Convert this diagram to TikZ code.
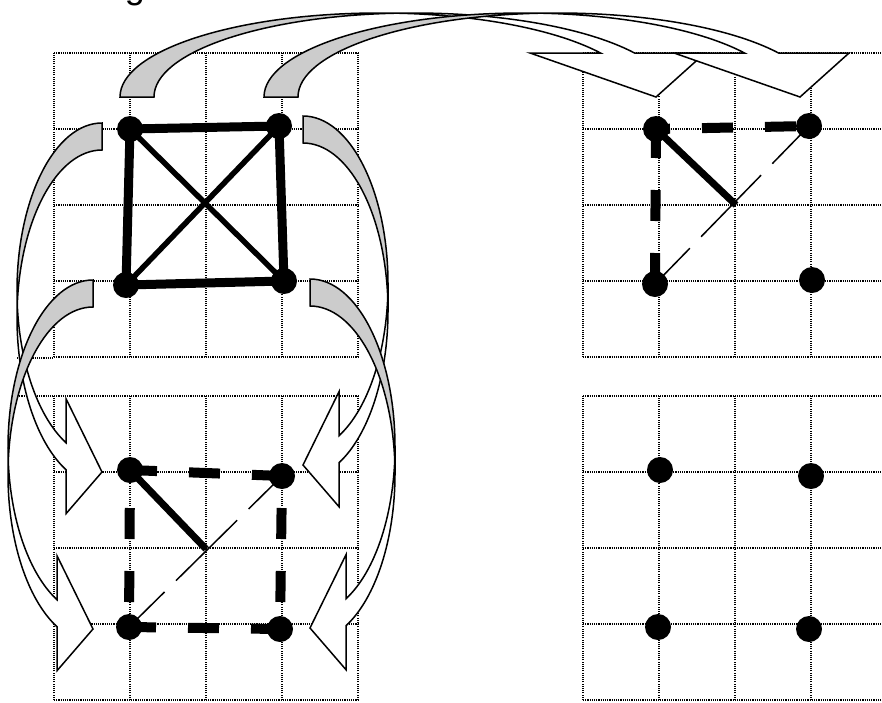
\documentclass[tikz,border=0pt]{standalone}
\usepackage{fontspec}
\setmainfont{Liberation Sans}
\usetikzlibrary{calc}
\definecolor{cShade}{RGB}{204,204,204}
\tikzset{
  gridline/.style={line width=1.1pt, dash pattern=on 1.1pt off 1.1pt, black},
  dotnode/.style={circle, fill=black, inner sep=0pt, minimum size=26pt},
  boldedge/.style={line width=9pt},
  crossedge/.style={line width=5.5pt},
  spokeedge/.style={line width=7pt},
  dashedge/.style={line width=10pt, dash pattern=on 31pt off 32pt},
  hairedge/.style={line width=1.5pt, dash pattern=on 86pt off 16pt, dash phase=36pt},
  arrowline/.style={line width=1.5pt, black},
}

% curved block arrow: #1 placement, #2 shaft, #3 head width, #4 head length, #5 span, #6 rise
\newcommand{\bandarrow}[6]{%
  \begin{scope}[#1]
    \pgfmathsetmacro\bwR{#5/2-(#2+#3)/4}
    \pgfmathsetmacro\bTa{asin(#4/#6)}
    \pgfmathsetmacro\bXf{\bwR+\bwR*cos(\bTa)}
    \pgfmathsetmacro\bXs{\bXf+#2}
    \pgfmathsetmacro\bXl{\bXf-(#3-#2)/2}
    \pgfmathsetmacro\bXr{\bXs+(#3-#2)/2}
    \pgfmathsetmacro\bTip{#5-#3/2}
    \pgfmathsetmacro\bPh{acos(#2/(2*\bwR))}
    \pgfmathsetmacro\bIx{\bwR+#2/2}
    \pgfmathsetmacro\bIy{#6*sin(\bPh)}
    \pgfmathsetmacro\bTop{\bwR+#2}
    % front
    \fill[white] (\bTip,0) -- (\bXl,#4) -- (\bXf,#4)
      arc[start angle=\bTa, end angle=90, x radius=\bwR, y radius=#6]
      -- (\bTop,#6)
      arc[start angle=90, end angle=\bTa, x radius=\bwR, y radius=#6]
      -- (\bXr,#4) -- cycle;
    % back
    \fill[cShade] (\bIx,\bIy)
      arc[start angle=180-\bPh, end angle=180, x radius=\bwR, y radius=#6]
      -- (0,0)
      arc[start angle=180, end angle=\bPh, x radius=\bwR, y radius=#6]
      -- cycle;
    % outline
    \draw[arrowline] (\bIx,\bIy)
      arc[start angle=180-\bPh, end angle=180, x radius=\bwR, y radius=#6]
      -- (0,0)
      arc[start angle=180, end angle=90, x radius=\bwR, y radius=#6]
      -- (\bTop,#6)
      arc[start angle=90, end angle=\bTa, x radius=\bwR, y radius=#6]
      -- (\bXr,#4) -- (\bTip,0) -- (\bXl,#4) -- (\bXf,#4)
      arc[start angle=\bTa, end angle=90, x radius=\bwR, y radius=#6];
  \end{scope}}

\begin{document}
\begin{tikzpicture}[x=1pt, y=1pt]

  \useasboundingbox (0,0) rectangle (882,-702);

  \node[font=\fontsize{36}{40}\selectfont, inner sep=0pt, anchor=base] (title)
      at (135,1.6) {g};

  % ── Grids ──
  \draw[gridline, shift={(54,-357)}] (0,0) grid[step=76] (304,304);
  \draw[gridline, shift={(583,-357)}] (0,0) grid[step=76] (304,304);
  \draw[gridline, shift={(54,-700)}] (0,0) grid[step=76] (304,304);
  \draw[gridline, shift={(583,-700)}] (0,0) grid[step=76] (304,304);
  \draw[gridline] (17,-358) -- (54,-358);
  \draw[gridline] (17,-396) -- (54,-396);

  % ── Curved arrows ──
  \bandarrow{shift={(120,-97)}}{34}{175}{44}{623.5}{84}
  \bandarrow{shift={(264,-97)}}{34}{175}{44}{623.5}{84}
  \bandarrow{cm={0,-1,-1,0,(102,-123)}}{27}{115}{36}{406.5}{85}
  \bandarrow{cm={0,-1,-1,0,(93,-280)}}{27}{115}{36}{406.5}{85}
  \bandarrow{cm={0,-1,1,0,(303,-116)}}{27}{115}{36}{406.5}{85}
  \bandarrow{cm={0,-1,1,0,(310,-279)}}{27}{115}{36}{406.5}{85}

  % ── Top left: full graph ──
  \node[dotnode] (tl1) at (130,-129) {};
  \node[dotnode] (tl2) at (279,-126) {};
  \node[dotnode] (tl3) at (126,-285) {};
  \node[dotnode] (tl4) at (284,-281) {};
  \draw[boldedge] (tl1.center) -- (tl2.center) -- (tl4.center) -- (tl3.center) -- cycle;
  \draw[crossedge] (tl1.center) -- (tl4.center);
  \draw[crossedge] (tl2.center) -- (tl3.center);

  % ── Top right ──
  \coordinate (trc) at (736,-205);
  \node[dotnode] (tr1) at (656,-129) {};
  \node[dotnode] (tr2) at (809,-126) {};
  \node[dotnode] (tr3) at (655,-284) {};
  \node[dotnode] (tr4) at (812,-280) {};
  \draw[dashedge, dash phase=17pt] (tr1.center) -- (tr2.center);
  \draw[dashedge, dash phase=2pt] (tr1.center) -- (tr3.center);
  \draw[spokeedge] (tr1.center) -- (trc);
  \draw[hairedge] (tr3.center) -- (tr2.center);

  % ── Bottom left ──
  \coordinate (blc) at (206,-549);
  \node[dotnode] (bl1) at (130,-470) {};
  \node[dotnode] (bl2) at (282,-476) {};
  \node[dotnode] (bl3) at (129,-627) {};
  \node[dotnode] (bl4) at (280,-629) {};
  \draw[dashedge, dash phase=4pt] (bl1.center) -- (bl2.center);
  \draw[dashedge, dash phase=4pt] (bl3.center) -- (bl4.center);
  \draw[dashedge, dash phase=25pt] (bl1.center) -- (bl3.center);
  \draw[dashedge, dash phase=31pt] (bl2.center) -- (bl4.center);
  \draw[spokeedge] (bl1.center) -- (blc);
  \draw[hairedge] (bl3.center) -- (bl2.center);

  % ── Bottom right ──
  \node[dotnode] (br1) at (660,-470) {};
  \node[dotnode] (br2) at (811,-476) {};
  \node[dotnode] (br3) at (658,-627) {};
  \node[dotnode] (br4) at (809,-629) {};

\end{tikzpicture}
\end{document}
